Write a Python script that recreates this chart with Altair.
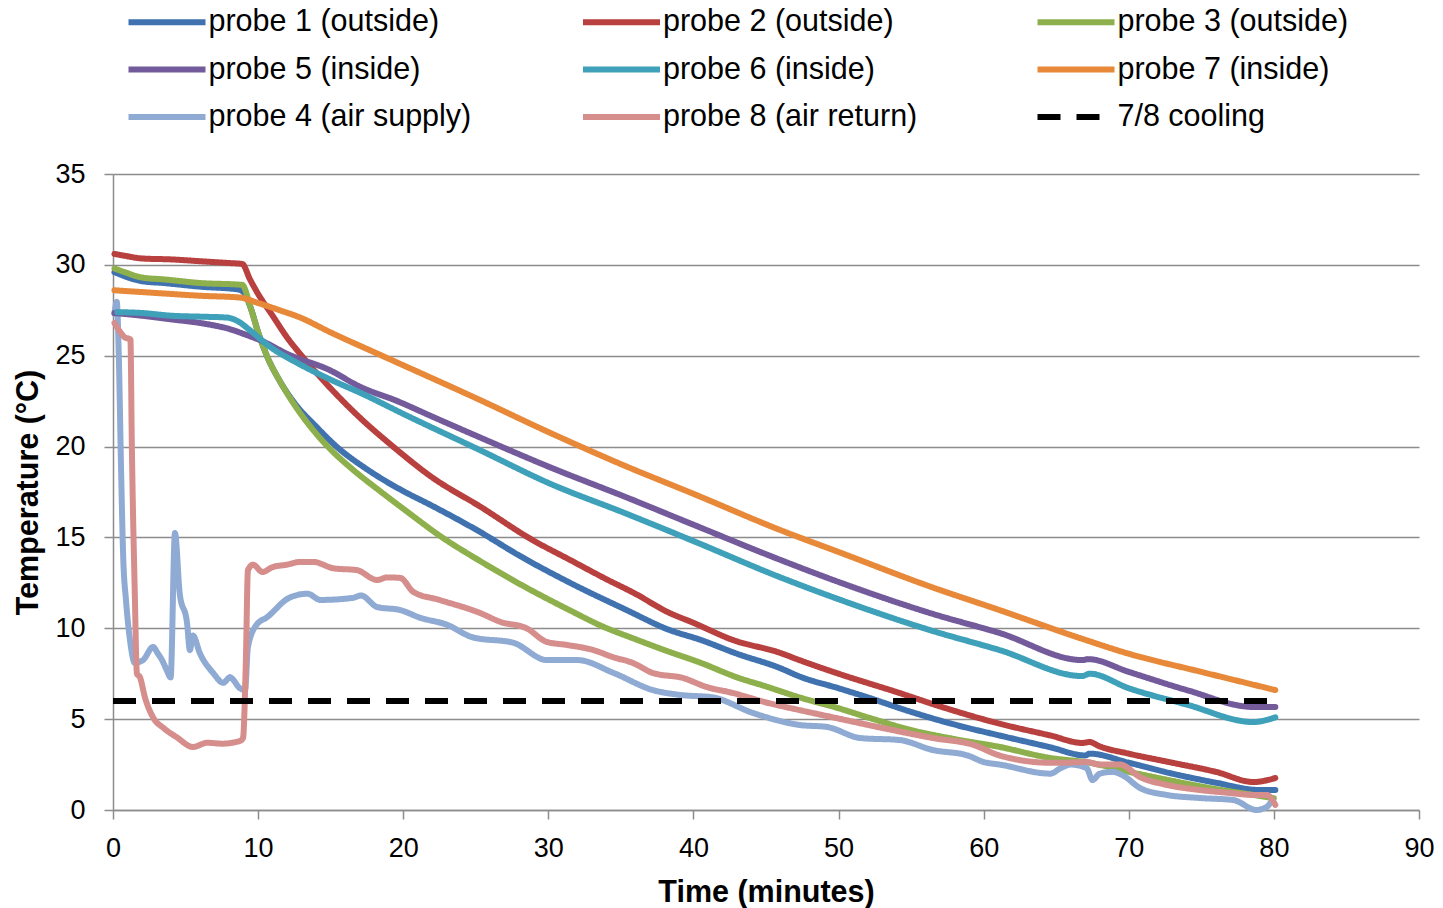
import altair as alt
import pandas as pd

# legend is laid out column by column: (col 1) probes 1,5,4 (col 2) probes 2,6,8 (col 3) probe 3, 7, cooling
SERIES = ["probe 1 (outside)", "probe 5 (inside)", "probe 4 (air supply)",
          "probe 2 (outside)", "probe 6 (inside)", "probe 8 (air return)",
          "probe 3 (outside)", "probe 7 (inside)", "7/8 cooling"]
COLORS = ["#3F72AF", "#735A9B", "#8FAAD3",
          "#B8413F", "#3FA0B9", "#D58E8C",
          "#8DB04C", "#E8893A", "#000000"]

p1_t = [0.1, 2, 3.5, 6, 8.6, 9.0, 9.5, 10, 10.6, 11.5, 12.5, 14, 15.4, 17.5, 20, 21.85, 25.3, 28, 31.5, 35.4, 38.2,
        40.5, 43, 46.0, 47.3, 50, 52.0, 55, 58, 61.1, 64.6, 67.0, 67.3, 70, 73, 76, 79.0, 80.1]
p1_v = [29.6, 29.1, 29.0, 28.8, 28.65, 28.5, 27.6, 26.3, 25.0, 23.6, 22.4, 21.1, 20.0, 18.75, 17.55, 16.8, 15.3,
        14.0, 12.5, 11.0, 9.95, 9.36, 8.6, 7.8, 7.35, 6.7, 6.2, 5.4, 4.7, 4.1, 3.45, 3.0, 3.1, 2.6, 2.0, 1.5, 1.1, 1.1]

p2_t = [0.1, 0.8, 2, 4, 6, 8.0, 8.9, 9.44, 10, 11, 12, 13, 15, 17, 19.3, 22, 25.3, 28.9, 31.5, 34, 36, 38.2, 40,
        42.7, 46.0, 47.3, 50, 54.2, 57, 61.1, 64.6, 66.8, 67.3, 68, 70, 73, 76, 78.6, 80.1]
p2_v = [30.6, 30.5, 30.35, 30.3, 30.2, 30.1, 30.05, 29.2, 28.4, 27.2, 26.0, 25.0, 23.2, 21.6, 20.0, 18.3, 16.7,
        14.86, 13.76, 12.7, 11.9, 10.9, 10.3, 9.36, 8.64, 8.25, 7.5, 6.44, 5.7, 4.75, 4.1, 3.69, 3.74, 3.5, 3.1, 2.6,
        2.1, 1.54, 1.76]

p3_t = [0.1, 0.8, 2, 3.5, 6, 8.9, 9.5, 10, 10.6, 11.5, 12.5, 13.5, 14.8, 16.5, 18.4, 20.3, 22.5, 25.3, 28, 31.7,
        33.6, 36, 38, 40.5, 43, 45, 47.3, 50, 52.0, 55, 58, 61.1, 64.6, 67.3, 70, 73, 76, 78, 80.0]
p3_v = [29.8, 29.6, 29.3, 29.2, 29.0, 28.9, 27.6, 26.3, 25.0, 23.6, 22.3, 21.2, 20.0, 18.75, 17.55, 16.4, 15.1,
        13.7, 12.45, 10.9, 10.15, 9.4, 8.8, 8.1, 7.3, 6.8, 6.2, 5.6, 5.1, 4.4, 3.9, 3.47, 2.86, 2.6, 2.1, 1.6, 1.15,
        0.9, 0.65]

p5_t = [0.1, 2, 4, 6, 8.3, 9, 10.3, 12, 14.95, 17, 19.6, 22, 25.3, 30, 35.4, 40, 46.0, 50, 56.3, 61.1, 66.8, 67.2,
        70, 74, 78.6, 80.1]
p5_v = [27.35, 27.2, 27.0, 26.8, 26.4, 26.2, 25.8, 25.1, 24.2, 23.3, 22.5, 21.65, 20.5, 18.9, 17.2, 15.7, 13.76,
        12.55, 10.84, 9.74, 8.25, 8.3, 7.6, 6.6, 5.67, 5.67]

p6_t = [0.3, 2, 4, 6, 7.85, 8.6, 9.44, 10.8, 12.7, 14.95, 17.2, 20, 25.3, 30, 35.4, 40, 46.0, 50, 56.3, 61.1, 66.8,
        67.3, 70, 74, 78.6, 80.1]
p6_v = [27.4, 27.35, 27.2, 27.15, 27.1, 26.9, 26.4, 25.5, 24.6, 23.7, 22.9, 21.8, 19.8, 18.0, 16.3, 14.8, 12.8, 11.6,
        9.9, 8.8, 7.37, 7.5, 6.7, 5.8, 4.84, 5.1]

p7_t = [0.1, 3, 6, 8.75, 10, 11.5, 12.9, 14.95, 18.4, 25.3, 30, 35.4, 40, 46.0, 50, 56.3, 61.1, 66.6, 70, 75, 80.1]
p7_v = [28.6, 28.45, 28.3, 28.2, 27.9, 27.5, 27.1, 26.3, 25.05, 22.56, 20.8, 18.9, 17.4, 15.4, 14.2, 12.3, 11.0,
        9.47, 8.6, 7.6, 6.6]

p4_t = [0.1, 0.26, 0.4, 0.55, 0.7, 0.9, 1.17, 1.5, 2.07, 2.76, 3.1, 3.38, 3.7, 3.97, 4.27, 4.6, 5.1, 5.3, 5.5, 6.0,
        6.9, 7.6, 8.06, 8.75, 9.1, 9.3, 9.9, 10.6, 12.2, 13.4, 14.3, 16.5, 17.1, 18.2, 19.8, 21.2, 23.0, 24.8, 27.6,
        29.9, 32.0, 34.5, 37.2, 39.1, 41.3, 44.1, 47.3, 49.2, 51.5, 54.2, 56.5, 58.9, 60.0, 61.1, 64.6, 65.3, 66.0,
        67.1, 67.5, 68.0, 68.9, 69.6, 70.8, 72.6, 74.9, 77.2, 78.8, 79.5, 79.9]
p4_v = [27.3, 27.96, 25.0, 19.0, 14.0, 11.5, 9.36, 8.1, 8.25, 8.97, 8.6, 8.25, 7.7, 7.3, 15.24, 11.9, 10.3, 8.8, 9.6,
        8.6, 7.54, 7.0, 7.3, 6.7, 6.6, 8.97, 10.2, 10.6, 11.7, 11.9, 11.56, 11.67, 11.8, 11.17, 11.0, 10.57, 10.2, 9.5,
        9.2, 8.25, 8.25, 7.54, 6.6, 6.33, 6.2, 5.34, 4.68, 4.57, 3.96, 3.85, 3.3, 3.0, 2.64, 2.5, 2.0, 2.3, 2.5, 2.3,
        1.65, 2.0, 2.1, 1.9, 1.2, 0.83, 0.66, 0.55, 0.0, 0.17, 0.55]

p8_t = [0.1, 0.5, 0.83, 1.2, 1.3, 1.5, 1.65, 1.86, 2.2, 2.76, 3.5, 4.4, 5.5, 6.5, 7.5, 8.75, 8.96, 9.15, 9.3, 9.65,
        10.3, 11.0, 12.0, 12.9, 13.8, 15.2, 16.8, 18.2, 18.9, 19.8, 20.7, 22.5, 25.3, 26.7, 28.5, 29.9, 31.3, 33.1,
        34.5, 35.8, 37.2, 39.3, 40.9, 42.7, 45.1, 47.3, 49.6, 53.1, 56.5, 59.3, 61.1, 64.6, 65.3, 67.1, 68.0, 69.4,
        70.8, 72.5, 74.9, 76.8, 78.6, 79.5, 80.1]
p8_v = [26.8, 26.3, 26.0, 25.9, 20.0, 12.0, 7.5, 7.3, 6.2, 5.1, 4.5, 4.0, 3.47, 3.7, 3.65, 3.8, 3.96, 8.0, 13.2,
        13.5, 13.1, 13.37, 13.5, 13.65, 13.65, 13.3, 13.2, 12.66, 12.8, 12.77, 12.0, 11.56, 10.84, 10.35, 10.0, 9.25,
        9.08, 8.8, 8.4, 8.1, 7.54, 7.26, 6.77, 6.44, 5.9, 5.5, 5.1, 4.5, 3.96, 3.58, 3.0, 2.6, 2.6, 2.64, 2.5, 2.5,
        1.8, 1.4, 1.1, 0.95, 0.83, 0.83, 0.28]

cool_t = [0, 80]
cool_v = [6, 6]

series_data = {
    "probe 1 (outside)": (p1_t, p1_v), "probe 2 (outside)": (p2_t, p2_v), "probe 3 (outside)": (p3_t, p3_v),
    "probe 5 (inside)": (p5_t, p5_v), "probe 6 (inside)": (p6_t, p6_v), "probe 7 (inside)": (p7_t, p7_v),
    "probe 4 (air supply)": (p4_t, p4_v), "probe 8 (air return)": (p8_t, p8_v), "7/8 cooling": (cool_t, cool_v),
}
DRAW_ORDER = ["probe 1 (outside)", "probe 2 (outside)", "probe 3 (outside)", "probe 4 (air supply)",
              "probe 5 (inside)", "probe 6 (inside)", "probe 7 (inside)", "probe 8 (air return)", "7/8 cooling"]

rows = []
for name in DRAW_ORDER:
    ts, vs = series_data[name]
    for i, (t, v) in enumerate(zip(ts, vs)):
        rows.append({"series": name, "t": t, "v": v, "i": i})
df = pd.DataFrame(rows)

FONT = "Liberation Sans"
GRID = "#8c8c8c"

legend = alt.Legend(
    title=None, orient="none", legendX=12.5, legendY=-167, columns=3, gridAlign="all",
    symbolType="stroke", symbolSize=5929, symbolStrokeWidth=6, clipHeight=30,
    rowPadding=16.5, columnPadding=108.5, labelFont=FONT, labelFontSize=30.5, labelColor="black",
    labelOffset=0, padding=0, labelLimit=500, symbolOffset=0,
)

dash_range = [[1, 0]] * 8 + [[23, 16]]

base = alt.Chart(df).encode(
    x=alt.X("t:Q", scale=alt.Scale(domain=[0, 90], nice=False),
            axis=alt.Axis(title="Time (minutes)", values=list(range(0, 91, 10)), grid=False, labelFlush=False,
                          tickSize=9, labelPadding=16, titlePadding=16)),
    y=alt.Y("v:Q", scale=alt.Scale(domain=[0, 35], nice=False),
            axis=alt.Axis(title="Temperature (°C)", values=list(range(0, 36, 5)), grid=True,
                          tickSize=9, labelPadding=19, titlePadding=11)),
    color=alt.Color("series:N", scale=alt.Scale(domain=SERIES, range=COLORS), legend=legend),
    strokeDash=alt.StrokeDash("series:N", scale=alt.Scale(domain=SERIES, range=dash_range), legend=legend),
    order=alt.Order("i:Q"),
)

probes = base.transform_filter(alt.datum.series != "7/8 cooling").mark_line(
    strokeWidth=6, strokeJoin="round", strokeCap="round", interpolate="monotone")
cooling = base.transform_filter(alt.datum.series == "7/8 cooling").mark_line(
    strokeWidth=6, strokeCap="butt")

chart = alt.layer(probes, cooling).properties(
    width=1306, height=636,
    autosize=alt.AutoSizeParams(type="none"),
    padding={"left": 113, "top": 174, "right": 24, "bottom": 98},
    background="white",
).configure_view(stroke=None).configure_axis(
    labelFont=FONT, labelFontSize=27, labelColor="black",
    titleFont=FONT, titleFontSize=30.5, titleFontWeight="bold", titleColor="black",
    domainColor=GRID, domainWidth=1.5, tickColor=GRID, tickWidth=1.5,
    gridColor=GRID, gridWidth=1.3,
)

chart.save("out.html", embed_options={"renderer": "svg", "actions": False})
